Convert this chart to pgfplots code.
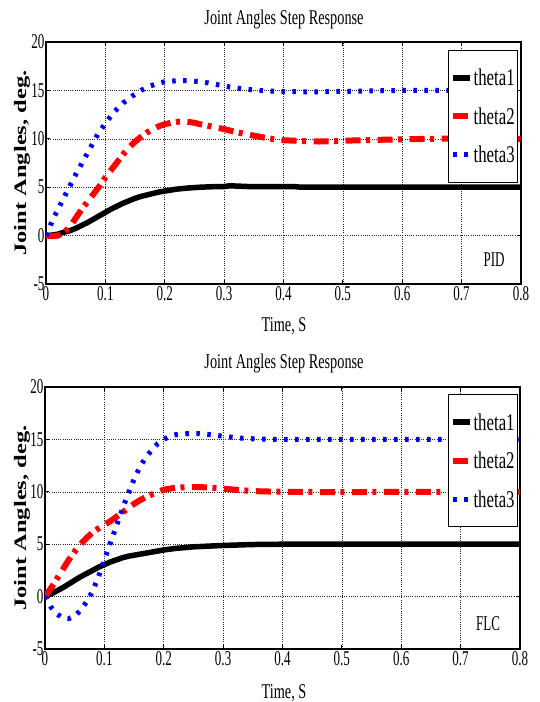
\documentclass[border=0pt]{standalone}
\usepackage{pgfplots}
\pgfplotsset{compat=1.18}
\usepackage{fontspec}
\setmainfont{Liberation Serif}
\newfontfamily\cond[FakeStretch=0.68]{Liberation Serif}
\newfontfamily\condt[FakeStretch=0.62]{Liberation Serif}
\newfontfamily\condl[FakeStretch=0.7]{Liberation Serif}
\newfontfamily\ylabfont[FakeStretch=1.4]{Liberation Serif}
\pgfplotsset{
  jstyle/.style={
    scale only axis,
    xmin=0, xmax=0.8, ymin=-5, ymax=20,
    xtick={0,0.1,0.2,0.3,0.4,0.5,0.6,0.7,0.8},
    xticklabels={0,0.1,0.2,0.3,0.4,0.5,0.6,0.7,0.8},
    ytick={-5,0,5,10,15,20},
    grid=major,
    major grid style={black!85, line width=0.5bp, dash pattern=on 1bp off 1.2bp},
    tick align=inside,
    major tick length=4bp,
    tick style={black, line width=0.8bp},
    axis line style={black, line width=1.2bp},
    /pgf/number format/assume math mode=true,
    ticklabel style={font=\condt\fontsize{21bp}{21bp}\selectfont},
    xticklabel style={yshift=1bp},
    yticklabel style={xshift=2bp},
    legend cell align=left,
    legend style={
      draw=black, line width=1bp, fill=white,
      font=\condl\fontsize{24bp}{24bp}\selectfont,
      inner xsep=2bp, inner ysep=18bp,
      row sep=19.5bp,
      nodes={inner sep=0.5bp, text height=17bp, text depth=1bp},
    },
  },
  th1/.style={black, line width=5.5bp},
  th2/.style={red, line width=6bp, dash pattern=on 15bp off 5.5bp on 4bp off 7.5bp},
  th3/.style={blue, line width=5bp, dash pattern=on 3.5bp off 7.5bp},
}
\begin{document}
\begin{tikzpicture}
\path[use as bounding box] (0,0) rectangle (540bp,-702bp);

% ---------- Top plot (PID) ----------
\node[font=\cond\fontsize{21bp}{21bp}\selectfont] at (284bp,-19bp) {Joint Angles Step Response};
\begin{axis}[jstyle,
  at={(46bp,-284bp)}, anchor=south west,
  width=475bp, height=242bp,
  legend style={at={(0.993,0.967)}, anchor=north east},
]
\addplot[th1] coordinates {
(0,0) (0.01,0.05) (0.02,0.15) (0.03,0.35) (0.04,0.5) (0.05,0.75) (0.06,1.05) (0.07,1.35)
(0.08,1.7) (0.09,2.05) (0.1,2.4) (0.11,2.75) (0.12,3.05) (0.13,3.35) (0.14,3.6) (0.15,3.85)
(0.16,4.05) (0.17,4.2) (0.18,4.35) (0.19,4.5) (0.2,4.6) (0.22,4.8) (0.24,4.92) (0.26,5.0)
(0.28,5.05) (0.3,5.07) (0.31,5.15) (0.32,5.12) (0.34,5.07) (0.36,5.05) (0.4,5.05) (0.42,5.05)
(0.43,5.0) (0.5,5.0) (0.6,5.0) (0.7,5.0) (0.8,5.0)
};
\addlegendentry{theta1}
\addplot[th2] coordinates {
(0,0) (0.01,-0.05) (0.02,0) (0.03,0.3) (0.04,0.9) (0.05,1.8) (0.06,2.7) (0.07,3.5) (0.08,4.3)
(0.09,5.1) (0.1,6.0) (0.11,6.8) (0.12,7.6) (0.13,8.4) (0.14,9.1) (0.15,9.7) (0.16,10.2)
(0.17,10.65) (0.18,11.0) (0.19,11.3) (0.2,11.5) (0.21,11.65) (0.22,11.75) (0.23,11.8)
(0.24,11.75) (0.25,11.65) (0.26,11.5) (0.28,11.25) (0.3,11.0) (0.32,10.7) (0.34,10.45)
(0.36,10.2) (0.38,10.0) (0.4,9.85) (0.42,9.8) (0.44,9.75) (0.46,9.72) (0.48,9.75) (0.5,9.8)
(0.55,9.88) (0.6,9.95) (0.65,10.0) (0.7,10.02) (0.8,10.0)
};
\addlegendentry{theta2}
\addplot[th3] coordinates {
(0,0) (0.0125,1.8) (0.025,3.3) (0.0375,4.8) (0.05,6.3) (0.0625,7.7) (0.075,9.1) (0.0875,10.5)
(0.1,11.6) (0.115,12.8) (0.13,13.7) (0.145,14.4) (0.16,15.0) (0.175,15.45) (0.19,15.75)
(0.2,15.9) (0.22,16.0) (0.24,16.0) (0.26,15.9) (0.28,15.7) (0.3,15.45) (0.32,15.25)
(0.34,15.1) (0.36,15.0) (0.38,14.92) (0.4,14.88) (0.45,14.85) (0.5,14.9) (0.55,14.95)
(0.6,15.0) (0.7,15.0) (0.8,15.0)
};
\addlegendentry{theta3}
\end{axis}
\node[font=\condt\fontsize{21bp}{21bp}\selectfont] at (494bp,-260bp) {PID};
\node[font=\cond\fontsize{21bp}{21bp}\selectfont] at (284bp,-326bp) {Time, S};
\node[font=\ylabfont\bfseries\fontsize{17.5bp}{18bp}\selectfont, rotate=90] at (22bp,-163bp) {Joint Angles, deg.};

% ---------- Bottom plot (FLC) ----------
\node[font=\cond\fontsize{21bp}{21bp}\selectfont] at (284bp,-363bp) {Joint Angles Step Response};
\begin{axis}[jstyle,
  at={(45bp,-649bp)}, anchor=south west,
  width=475bp, height=262bp,
  legend style={at={(0.995,0.973)}, anchor=north east},
]
\addplot[th1] coordinates {
(0,0) (0.01,0.25) (0.02,0.55) (0.03,0.85) (0.04,1.2) (0.05,1.55) (0.06,1.9) (0.07,2.2)
(0.08,2.5) (0.09,2.8) (0.1,3.05) (0.11,3.3) (0.12,3.5) (0.13,3.7) (0.14,3.85) (0.15,3.95)
(0.16,4.05) (0.18,4.25) (0.2,4.45) (0.22,4.6) (0.25,4.75) (0.3,4.88) (0.35,4.97) (0.4,5.0)
(0.5,5.0) (0.6,5.0) (0.7,5.0) (0.8,5.0)
};
\addlegendentry{theta1}
\addplot[th2] coordinates {
(0,0) (0.01,0.8) (0.02,1.7) (0.03,2.6) (0.04,3.5) (0.05,4.3) (0.06,5.0) (0.07,5.6) (0.08,6.1)
(0.09,6.5) (0.1,6.85) (0.11,7.2) (0.12,7.6) (0.13,8.0) (0.14,8.45) (0.15,8.85) (0.16,9.2)
(0.17,9.5) (0.18,9.75) (0.19,10.0) (0.2,10.2) (0.22,10.4) (0.24,10.45) (0.26,10.45)
(0.28,10.4) (0.3,10.3) (0.33,10.15) (0.36,10.05) (0.4,10.0) (0.5,9.97) (0.6,10.0) (0.8,10.0)
};
\addlegendentry{theta2}
\addplot[th3] coordinates {
(0,0) (0.01,-1.0) (0.02,-1.65) (0.03,-2.05) (0.04,-2.1) (0.05,-1.85) (0.06,-1.3) (0.07,-0.5)
(0.08,0.5) (0.09,1.9) (0.1,3.5) (0.11,5.1) (0.12,6.7) (0.13,8.3) (0.14,9.8) (0.15,11.2)
(0.16,12.4) (0.17,13.3) (0.18,14.0) (0.19,14.6) (0.2,15.0) (0.21,15.3) (0.22,15.45)
(0.24,15.55) (0.26,15.55) (0.28,15.45) (0.3,15.3) (0.33,15.12) (0.36,15.03) (0.4,15.0)
(0.5,15.0) (0.6,15.0) (0.7,15.0) (0.8,15.0)
};
\addlegendentry{theta3}
\end{axis}
\node[font=\condt\fontsize{21bp}{21bp}\selectfont] at (488bp,-624bp) {FLC};
\node[font=\cond\fontsize{21bp}{21bp}\selectfont] at (284bp,-693bp) {Time, S};
\node[font=\ylabfont\bfseries\fontsize{17.5bp}{18bp}\selectfont, rotate=90] at (22bp,-518bp) {Joint Angles, deg.};
\end{tikzpicture}
\end{document}
